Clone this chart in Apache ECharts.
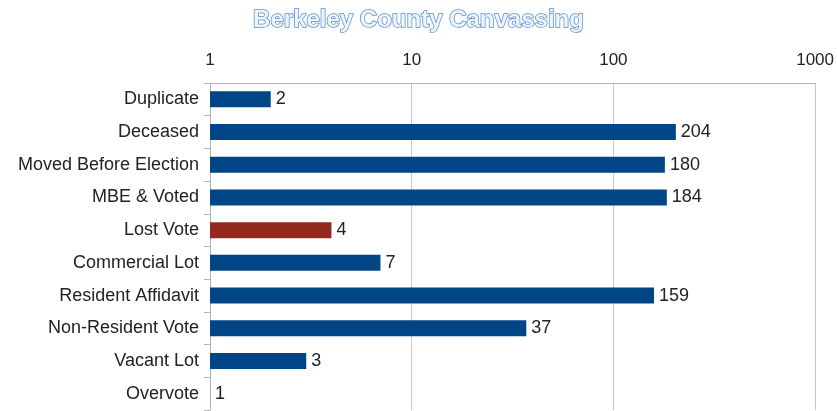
<!DOCTYPE html>
<html>
<head>
<meta charset="utf-8">
<script src="https://cdn.jsdelivr.net/npm/echarts@6/dist/echarts.min.js"></script>
<style>
  html, body { margin: 0; padding: 0; background: #fff; }
  #chart { width: 837px; height: 411px; }
</style>
</head>
<body>
<div id="chart"></div>
<script>
const categories = ['Duplicate', 'Deceased', 'Moved Before Election', 'MBE & Voted', 'Lost Vote',
  'Commercial Lot', 'Resident Affidavit', 'Non-Resident Vote', 'Vacant Lot', 'Overvote']
const counts = [2, 204, 180, 184, 4, 7, 159, 37, 3, 1]
const highlight = 'Lost Vote'

const chart = echarts.init(document.getElementById('chart'))
const font = 'Liberation Sans, Arial, sans-serif'

chart.setOption({
  animation: false,
  title: {
    text: 'Berkeley County Canvassing',
    left: 'center',
    top: 3,
    textStyle: {
      fontFamily: font,
      fontSize: 24,
      fontWeight: 'bold',
      color: '#eef4fb',
      textBorderColor: '#5b8fcc',
      textBorderWidth: 1.5,
    },
  },
  grid: { left: 210, right: 21, top: 83, bottom: 1 },
  xAxis: {
    type: 'log',
    logBase: 10,
    min: 1,
    max: 1000,
    position: 'top',
    axisLine: { show: true, lineStyle: { color: '#b3b3b3' } },
    axisTick: { show: false },
    axisLabel: { color: '#222', fontSize: 17, fontFamily: font, margin: 14, formatter: (v) => String(v) },
    splitLine: { show: true, lineStyle: { color: '#c8c8c8' } },
  },
  yAxis: {
    type: 'category',
    inverse: true,
    data: categories,
    axisLine: { show: true, lineStyle: { color: '#b3b3b3' } },
    axisTick: { show: true, length: 6, lineStyle: { color: '#b3b3b3' } },
    axisLabel: { color: '#222', fontSize: 18, fontFamily: font, margin: 11 },
  },
  series: [
    {
      type: 'bar',
      data: counts.map((v, i) => ({
        value: v,
        itemStyle: { color: categories[i] === highlight ? '#93291e' : '#004586' },
      })),
      barWidth: 16,
      label: {
        show: true,
        position: 'right',
        distance: 5,
        color: '#222',
        fontSize: 18,
        fontFamily: font,
      },
    },
  ],
})
</script>
</body>
</html>
